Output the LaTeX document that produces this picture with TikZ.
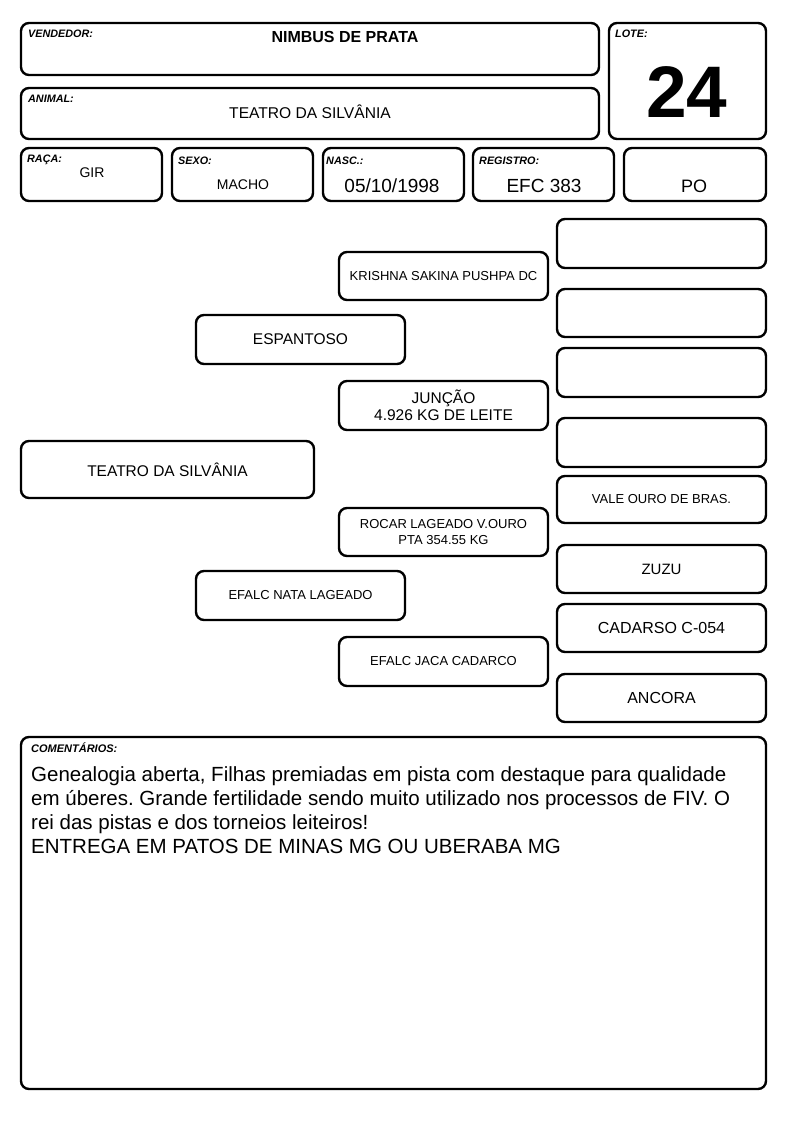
\documentclass[tikz,border=0pt]{standalone}
\usepackage{fontspec}
\setmainfont{Liberation Sans}
\frenchspacing
\begin{document}
\begin{tikzpicture}[x=1pt,y=-1pt,
  bx/.style={draw,line width=2.4pt,rounded corners=8pt,inner sep=0pt,align=center},
  lbl/.style={anchor=base west,inner sep=0pt,font=\fontsize{10.8}{12}\selectfont\bfseries\itshape},
  val/.style={anchor=base,inner sep=0pt},
  big/.style={font=\fontsize{15.5}{17}\selectfont},
  sml/.style={font=\fontsize{13}{16}\selectfont}]
\useasboundingbox (0,0) rectangle (794,1123);
% header
\node[bx,minimum width=578pt,minimum height=52pt] (vend) at (310,49) {};
\node[bx,minimum width=578pt,minimum height=51pt] (anim) at (310,113.5) {};
\node[bx,minimum width=157pt,minimum height=116pt] (lote) at (687.5,81) {};
\node[bx,minimum width=141pt,minimum height=53pt] (raca) at (91.5,174.5) {};
\node[bx,minimum width=141pt,minimum height=53pt] (sexo) at (242.5,174.5) {};
\node[bx,minimum width=141pt,minimum height=53pt] (nasc) at (393.5,174.5) {};
\node[bx,minimum width=141pt,minimum height=53pt] (reg) at (543.5,174.5) {};
\node[bx,minimum width=142pt,minimum height=53pt] (po) at (695,174.5) {};
\node[lbl] (lvend) at (28,38) {VENDEDOR:};
\node[lbl] (lanim) at (28,103) {ANIMAL:};
\node[lbl] (llote) at (615,38) {LOTE:};
\node[lbl] (lraca) at (27,163) {RAÇA:};
\node[lbl] (lsexo) at (178,164.5) {SEXO:};
\node[lbl] (lnasc) at (326,164.5) {NASC.:};
\node[lbl] (lreg) at (479,164.5) {REGISTRO:};
\node[val,font=\fontsize{16}{18}\selectfont\bfseries] (tvend) at (345,43) {NIMBUS DE PRATA};
\node[val,font=\fontsize{15.6}{18}\selectfont] (tanim) at (310,119) {TEATRO DA SILVÂNIA};
\node[val,font=\fontsize{73}{80}\selectfont\bfseries] (tlote) at (687,118) {24};
\node[val,font=\fontsize{14}{16}\selectfont] (traca) at (92,178) {GIR};
\node[val,font=\fontsize{14}{16}\selectfont] (tsexo) at (243,190) {MACHO};
\node[val,font=\fontsize{19}{21}\selectfont] (tnasc) at (392,193) {05/10/1998};
\node[val,font=\fontsize{19}{21}\selectfont] (treg) at (544,193) {EFC 383};
\node[val,font=\fontsize{18}{21}\selectfont] (tpo) at (694,193) {PO};
% pedigree
\node[bx,big,minimum width=293pt,minimum height=57pt] (p1) at (167.5,469.5) {TEATRO DA SILVÂNIA};
\node[bx,big,minimum width=209pt,minimum height=49pt] (s1) at (300.5,339.5) {ESPANTOSO};
\node[bx,sml,minimum width=209pt,minimum height=49pt] (s2) at (300.5,595.5) {EFALC NATA LAGEADO};
\node[bx,sml,minimum width=209pt,minimum height=48pt] (m1) at (443.5,276) {KRISHNA SAKINA PUSHPA DC};
\node[bx,big,minimum width=209pt,minimum height=49pt] (m2) at (443.5,405.5) {JUNÇÃO\\4.926 KG DE LEITE};
\node[bx,sml,minimum width=209pt,minimum height=48pt] (m3) at (443.5,532) {ROCAR LAGEADO V.OURO\\PTA 354.55 KG};
\node[bx,sml,minimum width=209pt,minimum height=49pt] (m4) at (443.5,661.5) {EFALC JACA CADARCO};
\node[bx,minimum width=209pt,minimum height=49pt] (r1) at (661.5,243.5) {};
\node[bx,minimum width=209pt,minimum height=48pt] (r2) at (661.5,313) {};
\node[bx,minimum width=209pt,minimum height=49pt] (r3) at (661.5,372.5) {};
\node[bx,minimum width=209pt,minimum height=49pt] (r4) at (661.5,442.5) {};
\node[bx,sml,minimum width=209pt,minimum height=47pt] (r5) at (661.5,499.5) {VALE OURO DE BRAS.};
\node[bx,font=\fontsize{15}{17}\selectfont,minimum width=209pt,minimum height=48pt] (r6) at (661.5,569) {ZUZU};
\node[bx,font=\fontsize{16}{18}\selectfont,minimum width=209pt,minimum height=48pt] (r7) at (661.5,628) {CADARSO C-054};
\node[bx,font=\fontsize{16}{18}\selectfont,minimum width=209pt,minimum height=48pt] (r8) at (661.5,698) {ANCORA};
% comments
\node[bx,minimum width=745pt,minimum height=352pt] (com) at (393.5,913) {};
\node[lbl,font=\fontsize{11}{12}\selectfont\bfseries\itshape] (lcom) at (31,752) {COMENTÁRIOS:};
\node[anchor=north west,inner sep=0pt,align=left,font=\fontsize{20.5}{24}\selectfont] (tcom) at (31,766)
{Genealogia aberta, Filhas premiadas em pista com destaque para qualidade\\
em úberes. Grande fertilidade sendo muito utilizado nos processos de FIV. O\\
rei das pistas e dos torneios leiteiros!\\
ENTREGA EM PATOS DE MINAS MG OU UBERABA MG};
\end{tikzpicture}
\end{document}
